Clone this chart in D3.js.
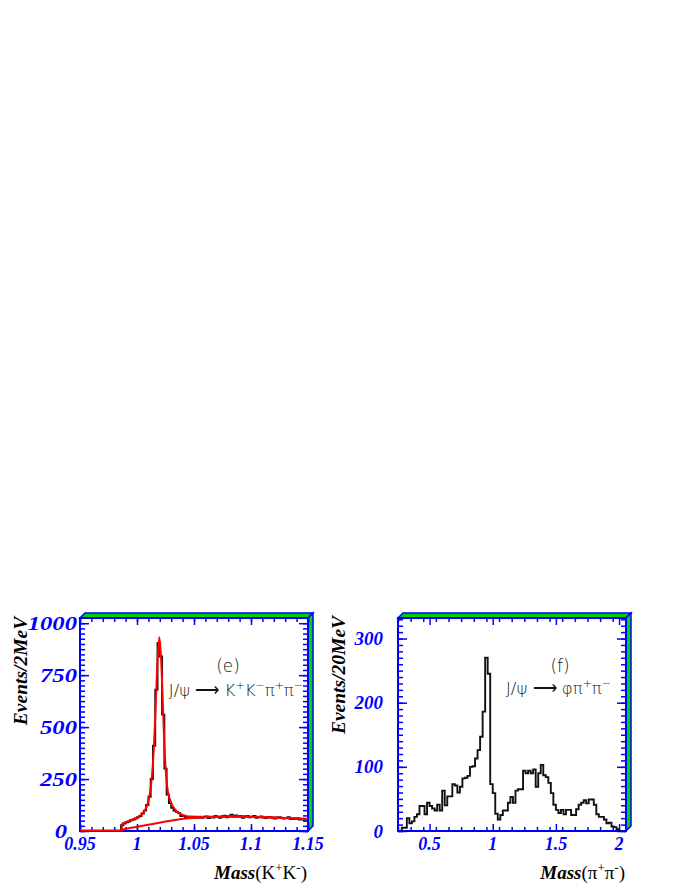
<!DOCTYPE html>
<html>
<head>
<meta charset="utf-8">
<script src="https://cdn.jsdelivr.net/npm/d3@7"></script>
<style>
  body { margin: 0; background: #fff; }
  svg { display: block; }
</style>
</head>
<body>
<div class="chart"></div>
<script>
// ---- panel (e): K+K- mass, 2 MeV bins from 0.986 GeV
var kkLow = 0.986, kkBin = 0.002;
var kkCounts = [
  28, 36, 42, 46, 52, 55, 60, 66, 72, 84, 98, 125, 165, 250, 410, 680,
  905, 840, 560, 300, 175, 135, 112, 98, 92, 86, 72, 74, 66,
  66, 64, 62, 65, 63, 68, 64, 66, 70, 62, 67, 65, 72, 68, 64, 70, 74,
  66, 71, 78, 70, 75, 68, 72, 64, 70, 73, 66, 68, 72, 63, 67, 70, 65,
  62, 68, 66, 64, 60, 65, 67, 63, 60, 62, 66, 58, 60, 57, 62, 55, 58, 54, 56
];
// fitted curve (signal + background)
var kkFitMass  = [0.95, 0.9866, 0.9869, 0.990, 0.994, 0.998, 1.002, 1.006, 1.009, 1.011, 1.013, 1.015,
                  1.0165, 1.018, 1.0196, 1.021, 1.0225, 1.024, 1.0255, 1.027, 1.029, 1.031, 1.0335,
                  1.037, 1.041, 1.046, 1.06, 1.08, 1.10, 1.12, 1.135, 1.15];
var kkFitValue = [0, 0, 30, 40, 48, 57, 68, 90, 122, 168, 255, 420,
                  615, 820, 930, 840, 640, 410, 270, 190, 148, 120, 100,
                  82, 73, 67, 66, 67, 66, 62, 59, 55];
// background component
var kkBgMass  = [0.9869, 0.995, 1.005, 1.015, 1.025, 1.035, 1.045, 1.055, 1.07, 1.09, 1.11, 1.13, 1.15];
var kkBgValue = [4, 13, 23, 33, 43, 52, 59, 63, 66, 67, 64, 60, 55];
var kkXTicks = [0.95, 1, 1.05, 1.1, 1.15];
var kkYTicks = [0, 250, 500, 750, 1000];

// ---- panel (f): pi+pi- mass, 20 MeV bins from 0.28 GeV
var pipiLow = 0.28, pipiBin = 0.02;
var pipiCounts = [
  5, 5, 20, 12, 15, 22, 26, 39, 39, 26, 44, 39, 35, 32, 41, 32, 63, 40, 54, 54,
  73, 71, 60, 69, 82, 83, 86, 100, 101, 113, 126, 147, 186, 270, 245, 73, 59, 27, 18, 25,
  32, 32, 44, 53, 44, 63, 65, 65, 94, 90, 94, 90, 96, 69, 90, 103, 87, 84, 75, 59,
  41, 33, 28, 33, 26, 33, 33, 25, 25, 34, 41, 44, 48, 43, 49, 49, 41, 26, 22, 22,
  18, 12, 13, 7, 6, 3, 0
];
var pipiXTicks = [0.5, 1, 1.5, 2];
var pipiYTicks = [0, 100, 200, 300];

var blue = '#0000ff', green = '#00d400', depth = 5;
var serif = '"Liberation Serif", "Times New Roman", serif';
var sans = '"DejaVu Sans", "Liberation Sans", sans-serif';

var svg = d3.select('.chart')
  .append('svg')
    .attr('width', 692)
    .attr('height', 896);

function drawPanel(p) {
  var x = d3.scaleLinear().domain(p.xDomain).range([p.x0, p.x1]);
  var y = d3.scaleLinear().domain(p.yDomain).range([p.y1, p.y0]);
  var g = svg.append('g');

  // 3D frame faces
  g.append('polygon')
    .attr('points', [[p.x0, p.y0], [p.x0 + depth, p.y0 - depth], [p.x1 + depth, p.y0 - depth], [p.x1, p.y0]].join(' '))
    .attr('fill', green).attr('stroke', blue).attr('stroke-width', 1.5);
  g.append('polygon')
    .attr('points', [[p.x1, p.y0], [p.x1 + depth, p.y0 - depth], [p.x1 + depth, p.y1 - depth], [p.x1, p.y1]].join(' '))
    .attr('fill', green).attr('stroke', blue).attr('stroke-width', 1.5);

  // frame
  g.append('rect')
    .attr('x', p.x0).attr('y', p.y0)
    .attr('width', p.x1 - p.x0).attr('height', p.y1 - p.y0)
    .attr('fill', 'none').attr('stroke', blue).attr('stroke-width', 2);

  // ticks (all pointing inwards)
  var xMinor = d3.range(p.xDomain[0], p.xDomain[1] + 1e-9, p.xMinor).map(v => +v.toFixed(4));
  var yMinor = d3.range(0, p.yDomain[1], p.yMinor);
  function tickGroup(axis, tx, ty) {
    var t = g.append('g').attr('transform', `translate(${tx}, ${ty})`).call(axis);
    t.select('.domain').remove();
    t.selectAll('text').remove();
    t.selectAll('line').attr('stroke', blue).attr('stroke-width', 1.5);
  }
  tickGroup(d3.axisBottom(x).tickValues(xMinor).tickSize(-4), 0, p.y1);
  tickGroup(d3.axisBottom(x).tickValues(p.xTicks).tickSize(-7), 0, p.y1);
  tickGroup(d3.axisTop(x).tickValues(xMinor).tickSize(-4), 0, p.y0);
  tickGroup(d3.axisTop(x).tickValues(p.xTicks).tickSize(-7), 0, p.y0);
  tickGroup(d3.axisLeft(y).tickValues(yMinor).tickSize(-5), p.x0, 0);
  tickGroup(d3.axisLeft(y).tickValues(p.yTicks).tickSize(-9), p.x0, 0);
  tickGroup(d3.axisRight(y).tickValues(yMinor).tickSize(-5), p.x1, 0);
  tickGroup(d3.axisRight(y).tickValues(p.yTicks).tickSize(-9), p.x1, 0);

  // clip for the data (a little below the axis so zero-level lines stay visible)
  var clipId = 'clip-' + p.id;
  g.append('clipPath').attr('id', clipId)
    .append('rect').attr('x', p.x0).attr('y', p.y0).attr('width', p.x1 - p.x0).attr('height', p.y1 - p.y0 + 1);
  var data = g.append('g').attr('clip-path', `url(#${clipId})`);

  // histogram
  var pts = [[p.low, 0]];
  p.counts.forEach((c, i) => pts.push([p.low + i * p.bin, c]));
  var lastEdge = p.low + p.counts.length * p.bin;
  pts.push([lastEdge, p.counts[p.counts.length - 1]]);
  if (p.closeHist) pts.push([lastEdge, 0]);
  var stepLine = d3.line().x(d => x(d[0])).y(d => y(d[1])).curve(d3.curveStepAfter);
  data.append('path')
    .attr('d', stepLine(pts))
    .attr('fill', 'none')
    .attr('stroke', '#111')
    .attr('stroke-width', 1.9);

  // fit curves
  (p.curves || []).forEach(c => {
    var line = d3.line().x(d => x(d[0])).y(d => y(d[1]) - 0.5).curve(d3.curveMonotoneX);
    data.append('path')
      .attr('d', line(d3.zip(c.mass, c.value)))
      .attr('fill', 'none')
      .attr('stroke', '#ff0000')
      .attr('stroke-width', 2);
  });

  // x tick labels
  g.selectAll('.xlab').data(p.xTicks).enter()
    .append('text')
      .attr('x', d => x(d))
      .attr('y', 850)
      .attr('text-anchor', 'middle')
      .style('font-family', serif).style('font-weight', 'bold').style('font-style', 'italic')
      .style('font-size', '18px')
      .attr('fill', blue)
      .text(d => d);

  // y tick labels
  g.selectAll('.ylab').data(p.yTicks).enter()
    .append('text')
      .attr('transform', d => `translate(${p.yLabelX - (d === 0 ? p.zeroShift : 0)}, ${y(d)}) scale(${p.yLabelStretch}, 1)`)
      .attr('dy', '0.35em')
      .attr('text-anchor', 'end')
      .style('font-family', serif).style('font-weight', 'bold').style('font-style', 'italic')
      .style('font-size', '19px')
      .attr('fill', blue)
      .text(d => d);

  // y title
  g.append('text')
    .attr('transform', `translate(${p.yTitleX}, ${p.yTitleY}) rotate(-90)`)
    .attr('text-anchor', 'middle')
    .style('font-family', serif).style('font-weight', 'bold').style('font-style', 'italic')
    .style('font-size', '19.5px')
    .text(p.yTitle);

  // x title
  var xt = g.append('text')
    .attr('x', p.x1 - 1)
    .attr('y', 879)
    .attr('text-anchor', 'end')
    .style('font-family', serif)
    .style('font-size', '19px');
  xt.append('tspan').style('font-weight', 'bold').style('font-style', 'italic').text('Mass');
  p.xTitle.forEach(s => {
    xt.append('tspan')
      .attr('dy', s.sup ? -7 : (s.after ? 7 : 0))
      .style('font-size', s.sup ? '13px' : '19px')
      .text(s.t);
  });

  // annotation
  g.append('text')
    .attr('x', p.tagX).attr('y', 672)
    .attr('text-anchor', 'middle')
    .style('font-family', sans).style('font-size', '17px').style('font-weight', 300)
    .attr('fill', '#111')
    .text(p.tag);
  var an = g.append('text')
    .attr('x', p.annX).attr('y', p.annY)
    .attr('text-anchor', 'end')
    .style('font-family', sans).style('font-size', '16.5px').style('font-weight', 300)
    .attr('fill', '#111');
  p.ann.forEach(s => {
    an.append('tspan')
      .attr('dy', s.sup ? -7 : (s.after ? 7 : 0))
      .style('font-size', s.sup ? '11px' : '16.5px')
      .text(s.t);
  });
}

drawPanel({
  id: 'kk',
  x0: 80, x1: 308, y0: 618, y1: 831,
  xDomain: [0.95, 1.15], yDomain: [0, 1025],
  xTicks: kkXTicks, yTicks: kkYTicks, xMinor: 0.01, yMinor: 25,
  low: kkLow, bin: kkBin, counts: kkCounts, closeHist: false,
  curves: [{mass: kkFitMass, value: kkFitValue}, {mass: kkBgMass, value: kkBgValue}],
  yLabelX: 77, yLabelStretch: 1.3, zeroShift: 10,
  yTitle: 'Events/2MeV', yTitleX: 27, yTitleY: 671,
  xTitle: [{t: '(K'}, {t: '+', sup: true}, {t: 'K', after: true}, {t: '-', sup: true}, {t: ')', after: true}],
  tag: '(e)', tagX: 228,
  ann: [{t: 'J/ψ ⟶ K'}, {t: '+', sup: true}, {t: 'K', after: true}, {t: '−', sup: true},
        {t: 'π', after: true}, {t: '+', sup: true}, {t: 'π', after: true}, {t: '−', sup: true}],
  annX: 303, annY: 696
});

drawPanel({
  id: 'pipi',
  x0: 398, x1: 626, y0: 618, y1: 831,
  xDomain: [0.25, 2.055], yDomain: [0, 332],
  xTicks: pipiXTicks, yTicks: pipiYTicks, xMinor: 0.1, yMinor: 10,
  low: pipiLow, bin: pipiBin, counts: pipiCounts, closeHist: true,
  curves: [],
  yLabelX: 383, yLabelStretch: 1, zeroShift: 0,
  yTitle: 'Events/20MeV', yTitleX: 345, yTitleY: 675,
  xTitle: [{t: '(π'}, {t: '+', sup: true}, {t: 'π', after: true}, {t: '-', sup: true}, {t: ')', after: true}],
  tag: '(f)', tagX: 560,
  ann: [{t: 'J/ψ ⟶ φπ'}, {t: '+', sup: true}, {t: 'π', after: true}, {t: '−', sup: true}],
  annX: 611, annY: 694
});
</script>
</body>
</html>
